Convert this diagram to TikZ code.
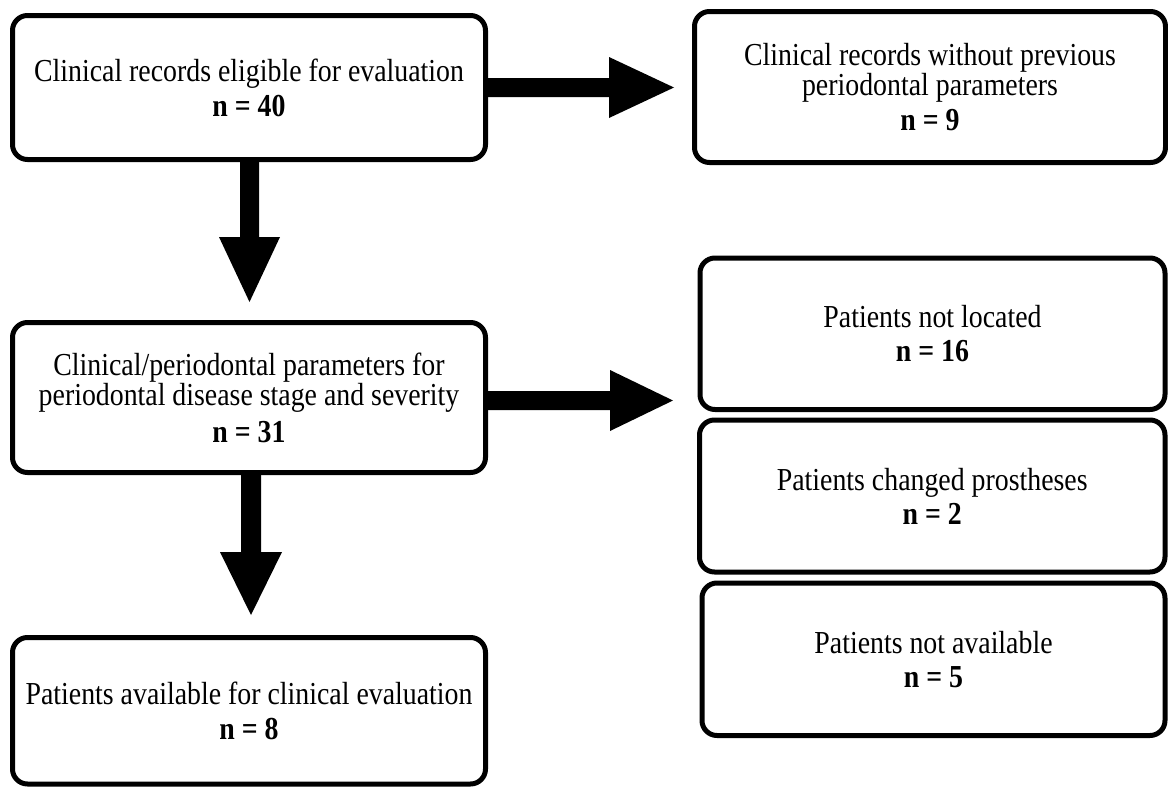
\documentclass[tikz,border=0pt]{standalone}
\usepackage{fontspec}
\setmainfont{Liberation Serif}[FakeStretch=0.87]
\begin{document}
\begin{tikzpicture}[x=1pt,y=-1pt,
  box/.style={draw=black, line width=5pt, rounded corners=15pt, align=center,
    inner sep=0pt, fill=white, font=\fontsize{32}{30}\selectfont},
  blockarrow/.style={fill=black}]
\useasboundingbox (0,0) rectangle (1168,787);
\fill[white] (0,0) rectangle (1168,787);

\node[box, minimum width=473pt, minimum height=144pt] (b1) at (249,87.5)
  {Clinical records eligible for evaluation\\[5pt]\textbf{n = 40}};
\node[box, minimum width=471pt, minimum height=151pt] (b2) at (930,87)
  {Clinical records without previous\\periodontal parameters\\[5pt]\textbf{n = 9}};
\node[box, minimum width=473pt, minimum height=150pt] (b3) at (249,397.5)
  {Clinical/periodontal parameters for\\periodontal disease stage and severity\\[7pt]\textbf{n = 31}};
\node[box, minimum width=465pt, minimum height=151.5pt] (b4) at (932.5,333.75)
  {Patients not located\\[4pt]\textbf{n = 16}};
\node[box, minimum width=465.5pt, minimum height=152pt] (b5) at (932.25,496)
  {Patients changed prostheses\\[4pt]\textbf{n = 2}};
\node[box, minimum width=463pt, minimum height=152.5pt] (b6) at (933.5,659.25)
  {Patients not available\\[4pt]\textbf{n = 5}};
\node[box, minimum width=473pt, minimum height=146.5pt] (b7) at (249,710.75)
  {Patients available for clinical evaluation\\[5pt]\textbf{n = 8}};

% arrow tips (free ends)
\coordinate (t1) at (674,87.5);
\coordinate (t2) at (673,400.5);
\coordinate (d1) at (249.5,302);
\coordinate (d2) at (251,615);

% right arrow 1: b1 -> b2
\fill[blockarrow] ([yshift=-9.5pt]b1.east) -- ([xshift=-65pt,yshift=-9.5pt]t1)
  -- ([xshift=-65pt,yshift=-30.5pt]t1) -- (t1) -- ([xshift=-65pt,yshift=30.5pt]t1)
  -- ([xshift=-65pt,yshift=9.5pt]t1) -- ([yshift=9.5pt]b1.east) -- cycle;
% right arrow 2: b3 -> b4/b5/b6
\fill[blockarrow] ([yshift=-9.5pt]b3.east |- t2) -- ([xshift=-63pt,yshift=-9.5pt]t2)
  -- ([xshift=-63pt,yshift=-30.5pt]t2) -- (t2) -- ([xshift=-63pt,yshift=30.5pt]t2)
  -- ([xshift=-63pt,yshift=9.5pt]t2) -- ([yshift=9.5pt]b3.east |- t2) -- cycle;
% down arrow 1: b1 -> b3
\fill[blockarrow] ([xshift=-9.5pt]b1.south -| d1) -- ([xshift=-9.5pt,yshift=65pt]d1)
  -- ([xshift=-30.5pt,yshift=65pt]d1) -- (d1) -- ([xshift=30.5pt,yshift=65pt]d1)
  -- ([xshift=9.5pt,yshift=65pt]d1) -- ([xshift=9.5pt]b1.south -| d1) -- cycle;
% down arrow 2: b3 -> b7
\fill[blockarrow] ([xshift=-10pt]b3.south -| d2) -- ([xshift=-10pt,yshift=63pt]d2)
  -- ([xshift=-31pt,yshift=63pt]d2) -- (d2) -- ([xshift=31pt,yshift=63pt]d2)
  -- ([xshift=10pt,yshift=63pt]d2) -- ([xshift=10pt]b3.south -| d2) -- cycle;
\end{tikzpicture}
\end{document}
